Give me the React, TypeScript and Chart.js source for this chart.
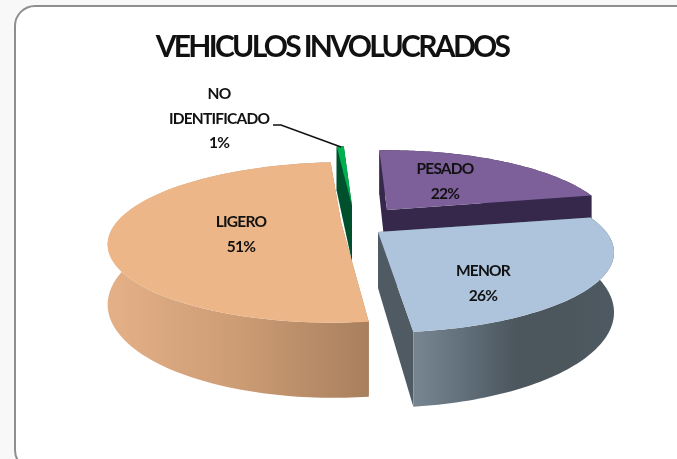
import React, { useEffect, useRef } from "react";
import { Chart, registerables } from "chart.js";

Chart.register(...registerables);

const categories = ["PESADO", "MENOR", "LIGERO", "NO IDENTIFICADO"];
const sliceValues = [22.45, 26.4, 50.55, 0.6];
const percentLabels = ["22%", "26%", "51%", "1%"];
const topColors = ["#7D5F9A", "#ADC4DC", "#ECB688", "#00B050"];
const sideColors = ["#35284A", "#4F5A63", "#A87F5E", "#00502E"];
const titleText = "VEHICULOS INVOLUCRADOS";

// style of the 3D look
const shifts = [[55, -12], [46, 10], [9, 0], [20, -16]];
const widthScale = [0.93, 0.967, 0.95, 1];
const lean = [0, 0, -0.07, 0];
const wallStops: string[][] = [
  ["#35284A", "#35284A"],
  ["#75848F", "#606E79", "#4C565D", "#4C565D", "#4E5A62"],
  ["#E4B088", "#CC9C74", "#A87F5E"],
  ["#00502E", "#00502E"],
];
const wallRanges = [[380, 600], [418, 614], [108, 370], [340, 350]];
const labelLines = categories.map((c, i) => [...c.split(" "), percentLabels[i]]);
const labelAnchors = [[445, 169], [483, 271], [241, 222], [219, 94]];
const FONT = "Lato, 'Open Sans', sans-serif";
const SQUASH = 75 / 236;
const PERSPECTIVE = 0.255;
const DEPTH = 56;

const pie3d = {
  id: "pie3d",
  beforeDraw(chart: any) {
    const { ctx, width, height } = chart;
    ctx.save();
    ctx.fillStyle = "#F8F8F8";
    ctx.fillRect(0, 0, width, height);
    ctx.beginPath();
    ctx.roundRect(15, 6, 700, 464, 20);
    ctx.fillStyle = "#FFFFFF";
    ctx.fill();
    ctx.lineWidth = 2;
    ctx.strokeStyle = "#8E8E8E";
    ctx.stroke();
    ctx.restore();
    ctx.letterSpacing = "-2.7px";
  },
  beforeDatasetDraw(chart: any) {
    const ctx = chart.ctx;
    ctx.letterSpacing = "0px";
    const arcs = chart.getDatasetMeta(0).data;
    const project = (el: any, i: number, angle: number | null, lift: number) => {
      const c = angle === null ? 0 : Math.cos(angle);
      const s = angle === null ? 0 : Math.sin(angle);
      const w = 1 - PERSPECTIVE * s;
      const R = el.outerRadius;
      const dy = (R * SQUASH * s) / w;
      return [
        el.x + shifts[i][0] + (R * widthScale[i] * c) / w + lean[i] * dy,
        el.y + shifts[i][1] + dy + (lift * DEPTH) / w,
      ];
    };
    const anglesOf = (el: any) => {
      const out: number[] = [];
      const n = 80;
      for (let k = 0; k <= n; k++) out.push(el.startAngle + ((el.endAngle - el.startAngle) * k) / n);
      return out;
    };
    const poly = (pts: number[][]) => {
      ctx.beginPath();
      pts.forEach((p, k) => (k ? ctx.lineTo(p[0], p[1]) : ctx.moveTo(p[0], p[1])));
      ctx.closePath();
    };
    const order = [0, 3, 2, 1];
    ctx.save();
    order.forEach((i) => {
      const el = arcs[i];
      const angles = anglesOf(el);
      const hubTop = project(el, i, null, 0);
      const hubBottom = project(el, i, null, 1);
      // radial cut faces
      [el.startAngle, el.endAngle].forEach((a: number) => {
        poly([hubTop, project(el, i, a, 0), project(el, i, a, 1), hubBottom]);
        ctx.fillStyle = sideColors[i];
        ctx.fill();
      });
      // curved outer wall
      const g = ctx.createLinearGradient(wallRanges[i][0], 0, wallRanges[i][1], 0);
      wallStops[i].forEach((c, k) => g.addColorStop(k / (wallStops[i].length - 1), c));
      poly([
        ...angles.map((a) => project(el, i, a, 0)),
        ...angles.slice().reverse().map((a) => project(el, i, a, 1)),
      ]);
      ctx.fillStyle = g;
      ctx.fill();
      // top surface
      poly([hubTop, ...angles.map((a) => project(el, i, a, 0))]);
      ctx.fillStyle = topColors[i];
      ctx.fill();
    });
    ctx.restore();
    return false;
  },
  afterDatasetsDraw(chart: any) {
    const ctx = chart.ctx;
    ctx.save();
    ctx.strokeStyle = "#111111";
    ctx.lineWidth = 1.5;
    ctx.beginPath();
    ctx.moveTo(273, 125);
    ctx.lineTo(281, 125);
    ctx.lineTo(341, 147);
    ctx.stroke();
    ctx.fillStyle = "#111111";
    ctx.font = `bold 15.5px ${FONT}`;
    ctx.letterSpacing = "-0.8px";
    ctx.textAlign = "center";
    ctx.textBaseline = "middle";
    labelLines.forEach((lines, i) => {
      lines.forEach((t, k) => ctx.fillText(t, labelAnchors[i][0], labelAnchors[i][1] + k * 24.5));
    });
    ctx.restore();
  },
};

export default function App() {
  const ref = useRef<HTMLCanvasElement | null>(null);
  useEffect(() => {
    const chart = new Chart(ref.current as HTMLCanvasElement, {
      type: "pie",
      data: {
        labels: categories,
        datasets: [{ data: sliceValues, backgroundColor: topColors, borderWidth: 0 }],
      },
      options: {
        animation: false,
        responsive: false,
        devicePixelRatio: 1,
        rotation: -2.5,
        radius: 236,
        layout: { padding: { right: 13, bottom: 84 } },
        plugins: {
          legend: { display: false },
          tooltip: { enabled: false },
          title: {
            display: true,
            text: titleText,
            color: "#111111",
            font: { family: FONT, size: 30, weight: "bold" },
            padding: { top: 29, bottom: 4 },
          },
        },
      },
      plugins: [pie3d],
    } as any);
    return () => chart.destroy();
  }, []);
  return (
    <div style={{ position: "fixed", left: 0, top: 0, width: 677, height: 459 }}>
      <canvas ref={ref} width={677} height={459} style={{ display: "block" }} />
    </div>
  );
}
